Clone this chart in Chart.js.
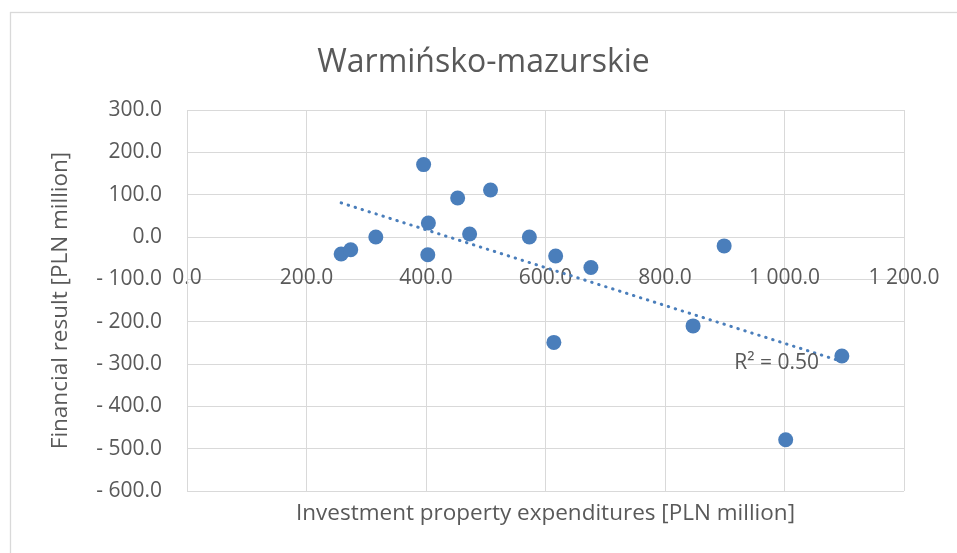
<!DOCTYPE html>
<html><head><meta charset="utf-8">
<script src="https://cdn.jsdelivr.net/npm/chart.js@4"></script>
<style>html,body{margin:0;padding:0;background:#fff}canvas{display:block}</style>
</head><body>
<canvas id="c" width="957" height="553"></canvas>
<script>
const chartTitle = 'Warmińsko-mazurskie';
const xTitle = 'Investment property expenditures [PLN million]';
const yTitle = 'Financial result [PLN million]';
const expenditures    = [258, 274, 316, 396, 404, 403, 453, 508, 473, 573, 617, 676, 614, 847, 899, 1096, 1002];
const financialResult = [-40, -30,   0, 171,  33, -42,  92, 111,   7,   0, -45, -72, -249, -210, -21, -281, -479];
const xRange = [0, 1200];
const xStep = 200;
const yRange = [-600, 300];
const yStep = 100;
const r2LabelAt = [987, -298];

const TEXT = '#595959', GRID = '#d9d9d9', BLUE = '#4a7ebb';
const FONT = '"Open Sans", "Noto Sans", sans-serif';

function fmt(v) {
  const a = Math.abs(v).toFixed(1).split('.');
  const i = a[0].replace(/\B(?=(\d{3})+(?!\d))/g, ' ');
  return (v < 0 ? '- ' : '') + i + '.' + a[1];
}

// least-squares linear trendline (as in the original)
const n = expenditures.length;
const mx = expenditures.reduce((s, v) => s + v, 0) / n;
const my = financialResult.reduce((s, v) => s + v, 0) / n;
let sxy = 0, sxx = 0, syy = 0;
for (let k = 0; k < n; k++) {
  const dx = expenditures[k] - mx, dy = financialResult[k] - my;
  sxy += dx * dy; sxx += dx * dx; syy += dy * dy;
}
const slope = sxy / sxx, intercept = my - slope * mx;
const r2 = (sxy * sxy) / (sxx * syy);
const xMin = Math.min(...expenditures), xMax = Math.max(...expenditures);
const trend = [xMin, xMax].map(x => ({x, y: intercept + slope * x}));

const points = expenditures.map((x, k) => ({x, y: financialResult[k]}));

const deco = {
  id: 'deco',
  beforeDraw(chart) {
    const ctx = chart.ctx;
    ctx.save();
    ctx.strokeStyle = GRID; ctx.lineWidth = 1.3;
    ctx.strokeRect(10.5, 12.5, chart.width + 20, chart.height + 20);
    ctx.restore();
  },
  afterDatasetsDraw(chart) {
    const ctx = chart.ctx;
    const x = chart.scales.x.getPixelForValue(r2LabelAt[0]);
    const y = chart.scales.y.getPixelForValue(r2LabelAt[1]);
    ctx.save();
    ctx.font = '21px ' + FONT;
    ctx.fillStyle = TEXT;
    ctx.textAlign = 'center'; ctx.textBaseline = 'middle';
    ctx.fillText('R\u00B2 = ' + r2.toFixed(2), x, y);
    ctx.restore();
  }
};

new Chart(document.getElementById('c'), {
  type: 'scatter',
  data: {
    datasets: [
      {
        type: 'line', data: trend, showLine: true, fill: false,
        borderColor: BLUE, borderWidth: 3, borderCapStyle: 'round',
        borderDash: [0.5, 6.8], pointRadius: 0, pointHoverRadius: 0
      },
      {
        data: points, backgroundColor: BLUE, borderWidth: 0,
        pointRadius: 7.5, pointHoverRadius: 7.5
      }
    ]
  },
  options: {
    responsive: false, animation: false, devicePixelRatio: 1,
    layout: { padding: { left: 10, right: 0, top: 0, bottom: 0 } },
    plugins: {
      legend: { display: false },
      tooltip: { enabled: false },
      title: {
        display: true, text: chartTitle, color: TEXT,
        font: { family: FONT, size: 32, weight: 'normal', lineHeight: 1.2 },
        padding: { top: 44, bottom: 27.6 }
      }
    },
    scales: {
      x: {
        type: 'linear', position: { y: 0 }, min: xRange[0], max: xRange[1],
        ticks: { stepSize: xStep, color: TEXT, padding: 28, callback: v => fmt(v),
                 font: { family: FONT, size: 21, lineHeight: 1.2 }, maxRotation: 0 },
        grid: { color: GRID, lineWidth: 1, drawTicks: false },
        border: { display: false },
        afterFit: s => { s.paddingLeft = 0; s.paddingRight = 0; }
      },
      x2: {
        type: 'linear', position: 'bottom', min: xRange[0], max: xRange[1],
        ticks: { display: false }, grid: { display: false }, border: { display: false },
        title: { display: true, text: xTitle, color: TEXT,
                 font: { family: FONT, size: 22.5, lineHeight: 1.2 }, padding: { top: 0, bottom: 25.5 } },
        afterFit: s => { s.height = 62; s.paddingLeft = 0; s.paddingRight = 0; }
      },
      y: {
        type: 'linear', position: 'left', min: yRange[0], max: yRange[1],
        ticks: { stepSize: yStep, color: TEXT, padding: 25, callback: v => fmt(v),
                 font: { family: FONT, size: 21, lineHeight: 1.2 } },
        grid: { color: GRID, lineWidth: 1, drawTicks: false },
        border: { display: true, color: GRID, width: 1 },
        title: { display: true, text: yTitle, color: TEXT,
                 font: { family: FONT, size: 22.5, lineHeight: 1.2 }, padding: { top: 37.5, bottom: 0 } },
        afterFit: s => { s.width = 177; }
      },
      y2: {
        type: 'linear', position: 'right', min: yRange[0], max: yRange[1],
        ticks: { display: false }, grid: { display: false }, border: { display: false },
        afterFit: s => { s.width = 53; }
      }
    }
  },
  plugins: [deco]
});
</script>
</body></html>
